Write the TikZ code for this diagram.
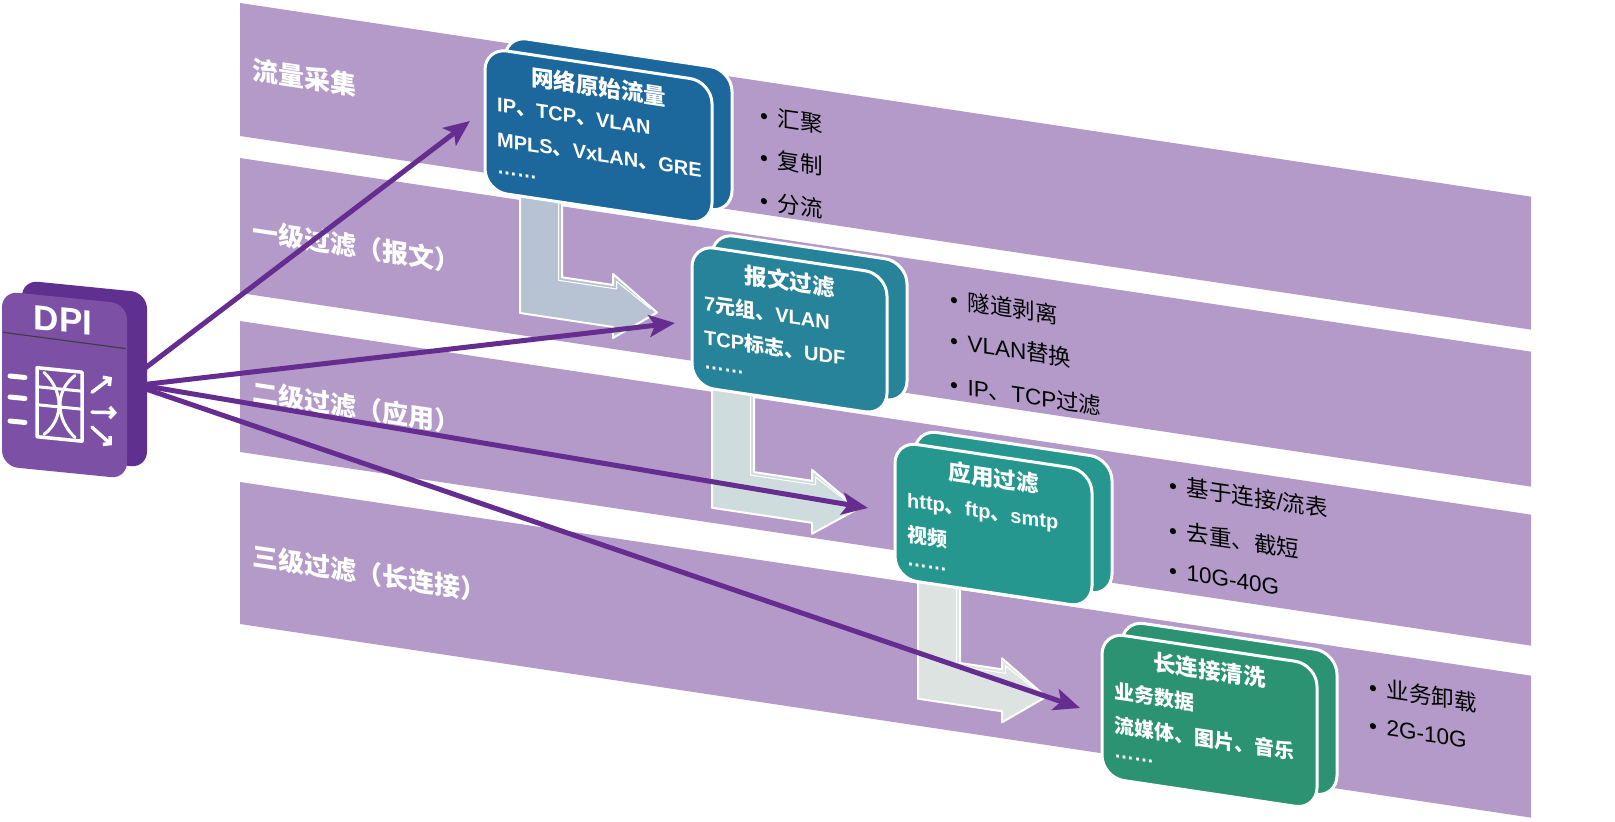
\documentclass[tikz,border=0pt]{standalone}
\usepackage{fontspec}
\setmainfont{Liberation Sans}
\newfontfamily\cjk{Noto Sans CJK SC}
\usetikzlibrary{arrows.meta}
\newcommand\zh[1]{{\cjk #1}}
\definecolor{bandc}{HTML}{B39AC8}
\definecolor{arrowc}{HTML}{662D91}
\definecolor{c1}{HTML}{1C679B}
\definecolor{c2}{HTML}{27839A}
\definecolor{c3}{HTML}{26978F}
\definecolor{c4}{HTML}{2C9372}
\definecolor{g1}{HTML}{B7C3D3}
\definecolor{g2}{HTML}{CFDCDD}
\definecolor{g3}{HTML}{DCE3E0}
\definecolor{dpiback}{HTML}{5F3090}
\definecolor{dpifront}{HTML}{7C51A5}
\tikzset{
  boxface/.style={draw=white, line width=3pt, rounded corners=22pt, inner sep=0pt, transform shape},
  ttl/.style={text=white, font=\cjk\bfseries\fontsize{22.5pt}{24pt}\selectfont, inner sep=0pt, transform shape},
  txt/.style={text=white, font=\bfseries\fontsize{20pt}{22pt}\selectfont, anchor=base west, inner sep=0pt, transform shape},
  bul/.style={text=black, font=\fontsize{22.5pt}{24pt}\selectfont, anchor=base west, inner sep=0pt, transform shape},
  lbl/.style={text=white, font=\cjk\bfseries\fontsize{26pt}{28pt}\selectfont, anchor=base west, inner sep=0pt, transform shape},
  flow/.style={line width=5pt, draw=arrowc, -{Stealth[length=26pt,width=22pt,inset=6pt]}},
  grayarr/.style={draw=white, line width=2pt, line join=round},
  bevel/.style={draw=white, line width=1pt, line join=round},
  dpiface/.style={rounded corners=16pt, inner sep=0pt, transform shape, draw=none},
  icon/.style={draw=white, line width=3.5pt, line cap=round, line join=round},
}
\begin{document}
\begin{tikzpicture}[x=1pt,y=-1pt]
\useasboundingbox (0,0) rectangle (1615,822);
\begin{scope}[yslant=-0.15]
  % bands
  \fill[bandc] (240,-33) rectangle (1531,100);
  \fill[bandc] (240,122) rectangle (1531,257);
  \fill[bandc] (240,285) rectangle (1531,416);
  \fill[bandc] (240,446) rectangle (1531,588);
  % band labels
  \node[lbl] (l1) at (252,42) {流量采集};
  \node[lbl] (l2) at (252,203) {一级过滤（报文）};
  \node[lbl] (l3) at (252,364) {二级过滤（应用）};
  \node[lbl] (l4) at (252,528) {三级过滤（长连接）};
  % gray bent arrows
  \path[grayarr, fill=g1] (520,110) -- (520,235) -- (613,235) -- (613,246) -- (657,214) -- (613,182) -- (613,193) -- (562,193) -- (562,110) -- cycle;
  \draw[bevel] (558.5,110) -- (558.5,196.5) -- (616.5,196.5) -- (616.5,188.9) -- (651,211.5);
  \path[grayarr, fill=g2] (712,275) -- (712,401) -- (812,401) -- (812,412) -- (858,380) -- (812,348) -- (812,359) -- (754,359) -- (754,275) -- cycle;
  \draw[bevel] (750.5,275) -- (750.5,362.5) -- (815.5,362.5) -- (815.5,354.7) -- (852,377.5);
  \path[grayarr, fill=g3] (918,437) -- (918,561) -- (1002,561) -- (1002,572) -- (1046,540) -- (1002,508) -- (1002,519) -- (960,519) -- (960,437) -- cycle;
  \draw[bevel] (956.5,437) -- (956.5,522.5) -- (1005.5,522.5) -- (1005.5,514.9) -- (1040,537.5);
  % boxes
  \node[boxface, fill=c1, minimum width=227pt, minimum height=143pt] (b1back) at (618.5,31.5) {};
  \node[boxface, fill=c1, minimum width=227pt, minimum height=143pt] (b1) at (598.5,46.5) {};
  \node[boxface, fill=c2, minimum width=195pt, minimum height=141pt] (b2back) at (809.5,196.5) {};
  \node[boxface, fill=c2, minimum width=195pt, minimum height=141pt] (b2) at (789.5,211.5) {};
  \node[boxface, fill=c3, minimum width=197pt, minimum height=137pt] (b3back) at (1013.5,360.5) {};
  \node[boxface, fill=c3, minimum width=197pt, minimum height=137pt] (b3) at (993.5,375.5) {};
  \node[boxface, fill=c4, minimum width=215pt, minimum height=145pt] (b4back) at (1229.5,524.5) {};
  \node[boxface, fill=c4, minimum width=215pt, minimum height=145pt] (b4) at (1209.5,539.5) {};
  % box texts
  \node[ttl] (b1t) at (598.5,-3) {网络原始流量};
  \node[txt] (b1a) at (497,37) {IP\zh{、}TCP\zh{、}VLAN};
  \node[txt] (b1b) at (497,72) {MPLS\zh{、}VxLAN\zh{、}GRE};
  \node[txt] (b1c) at (497,99) {……};
  \node[ttl] (b2t) at (789.5,163) {报文过滤};
  \node[txt] (b2a) at (704,205) {7\zh{元组、}VLAN};
  \node[txt] (b2b) at (704,239) {TCP\zh{标志、}UDF};
  \node[txt] (b2c) at (704,263) {……};
  \node[ttl] (b3t) at (993.5,329) {应用过滤};
  \node[txt] (b3a) at (907,371) {http\zh{、}ftp\zh{、}smtp};
  \node[txt] (b3b) at (907,405) {\zh{视频}};
  \node[txt] (b3c) at (907,429) {……};
  \node[ttl] (b4t) at (1209.5,489) {长连接清洗};
  \node[txt] (b4a) at (1114,531) {\zh{业务数据}};
  \node[txt] (b4b) at (1114,565) {\zh{流媒体、图片、音乐}};
  \node[txt] (b4c) at (1114,590) {……};
  % bullets
  \node[bul] (u11) at (760,9.5) {•\hspace{9.5pt}\zh{汇聚}};
  \node[bul] (u12) at (760,51.5) {•\hspace{9.5pt}\zh{复制}};
  \node[bul] (u13) at (760,94.5) {•\hspace{9.5pt}\zh{分流}};
  \node[bul] (u21) at (950,165) {•\hspace{9.5pt}\zh{隧道剥离}};
  \node[bul] (u22) at (950,206) {•\hspace{9.5pt}VLAN\zh{替换}};
  \node[bul] (u23) at (950,250) {•\hspace{9.5pt}IP\zh{、}TCP\zh{过滤}};
  \node[bul] (u31) at (1169,318) {•\hspace{9.5pt}\zh{基于连接}/\zh{流表}};
  \node[bul] (u32) at (1169,363) {•\hspace{9.5pt}\zh{去重、截短}};
  \node[bul] (u33) at (1169,403) {•\hspace{9.5pt}10G-40G};
  \node[bul] (u41) at (1369,490) {•\hspace{9.5pt}\zh{业务卸载}};
  \node[bul] (u42) at (1369,528) {•\hspace{9.5pt}2G-10G};
\end{scope}
% purple flow arrows
\coordinate (s1) at (140,372);
\coordinate (s2) at (140,385);
\coordinate (s3) at (140,385);
\coordinate (s4) at (140,387);
\coordinate (t1) at (470,121);
\coordinate (t2) at (675,323);
\coordinate (t3) at (868,508);
\coordinate (t4) at (1080,708);
\draw[flow] (s1) -- (t1);
\draw[flow] (s2) -- (t2);
\draw[flow] (s3) -- (t3);
\draw[flow] (s4) -- (t4);
% DPI icon
\begin{scope}[yslant=-0.1]
  \node[dpiface, fill=dpiback, minimum width=125pt, minimum height=175pt] (dpib) at (84.5,365.5) {};
  \node[dpiface, fill=dpifront, minimum width=125pt, minimum height=175pt] (dpif) at (64.5,378.5) {};
  \node[text=white, font=\bfseries\fontsize{35pt}{36pt}\selectfont, inner sep=0pt, transform shape] (dpit) at (63,314) {DPI};
  \draw[draw=black!75, line width=1.2pt] (3,332) -- (126,336);
  \draw[icon, line width=5pt] (10,375) -- (25,375);
  \draw[icon, line width=5pt] (10,396) -- (25,396);
  \draw[icon, line width=5pt] (10,420) -- (25,420);
  \draw[icon] (37,364) rectangle (82,433);
  \draw[icon, line width=3pt] (37,383) -- (82,383);
  \draw[icon, line width=3pt] (37,401) -- (82,401);
  \draw[icon, line width=3pt] (44,368) .. controls (64,385) and (64,413) .. (44,430);
  \draw[icon, line width=3pt] (75,368) .. controls (55,385) and (55,413) .. (75,430);
  \draw[icon, -{Straight Barb[length=5pt,width=11pt]}] (92,383) -- (112,366);
  \draw[icon, -{Straight Barb[length=5pt,width=11pt]}] (92,403) -- (117,401);
  \draw[icon, -{Straight Barb[length=5pt,width=11pt]}] (92,418) -- (112,434);
\end{scope}
\end{tikzpicture}
\end{document}
